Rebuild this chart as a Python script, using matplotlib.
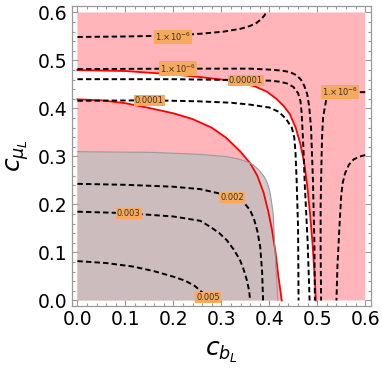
import numpy as np
import matplotlib
matplotlib.use("Agg")
import matplotlib.pyplot as plt

# red boundary curves
red_in_x = [0.0, 0.05, 0.10, 0.15, 0.20, 0.24, 0.28, 0.31, 0.34, 0.36, 0.375, 0.388, 0.398, 0.406, 0.413, 0.419, 0.426]
red_in_y = [0.419, 0.417, 0.411, 0.401, 0.390, 0.378, 0.360, 0.339, 0.310, 0.286, 0.260, 0.225, 0.185, 0.145, 0.10, 0.05, 0.0]
red_out_x = [0.0, 0.10, 0.20, 0.26, 0.31, 0.34, 0.37, 0.395, 0.415, 0.43, 0.443, 0.455, 0.465,
             0.473, 0.479, 0.485, 0.49, 0.494, 0.497]
red_out_y = [0.480, 0.478, 0.471, 0.465, 0.459, 0.454, 0.446, 0.435, 0.420, 0.405, 0.388, 0.360, 0.325,
             0.285, 0.24, 0.18, 0.12, 0.06, 0.0]

# gray excluded region edge
gray_x = [0.0, 0.10, 0.15, 0.256, 0.311, 0.335, 0.353, 0.366, 0.378, 0.388, 0.395, 0.40, 0.404,
          0.408, 0.410, 0.412, 0.415, 0.418]
gray_y = [0.310, 0.309, 0.3087, 0.3045, 0.2996, 0.295, 0.289, 0.283, 0.272, 0.26, 0.247, 0.232, 0.21,
          0.182, 0.14, 0.10, 0.05, 0.0]

# dashed contour lines
contours = {
    "top": ([0.0, 0.10, 0.20, 0.26, 0.304, 0.34, 0.36, 0.373, 0.383, 0.39, 0.393],
            [0.549, 0.550, 0.552, 0.556, 0.560, 0.566, 0.572, 0.578, 0.586, 0.594, 0.6]),
    "l2": ([0.0, 0.20, 0.36, 0.40, 0.425, 0.443, 0.457, 0.466, 0.473, 0.479, 0.483, 0.487, 0.491, 0.494, 0.495],
           [0.482, 0.483, 0.483, 0.481, 0.479, 0.476, 0.469, 0.460, 0.447, 0.430, 0.405, 0.36, 0.25, 0.12, 0.0]),
    "l3": ([0.0, 0.20, 0.35, 0.401, 0.42, 0.436, 0.45, 0.46, 0.465, 0.4675, 0.471, 0.474, 0.480, 0.484],
           [0.461, 0.461, 0.459, 0.458, 0.456, 0.4525, 0.445, 0.432, 0.415, 0.39, 0.32, 0.24, 0.12, 0.0]),
    "l4": ([0.0, 0.15, 0.25, 0.32, 0.36, 0.40, 0.42, 0.435, 0.447, 0.452, 0.4545, 0.457, 0.46, 0.461],
           [0.416, 0.417, 0.415, 0.412, 0.408, 0.402, 0.393, 0.378, 0.36, 0.34, 0.31, 0.25, 0.15, 0.0]),
    "r1": ([0.6, 0.56, 0.535, 0.525, 0.519, 0.516, 0.512, 0.51, 0.509, 0.507, 0.507, 0.508],
           [0.434, 0.434, 0.433, 0.429, 0.42, 0.404, 0.38, 0.34, 0.3, 0.2, 0.1, 0.0]),
    "r2": ([0.6, 0.589, 0.576, 0.566, 0.558, 0.553, 0.55, 0.546, 0.542, 0.540],
           [0.303, 0.300, 0.294, 0.283, 0.265, 0.245, 0.22, 0.15, 0.07, 0.0]),
    "g1": ([0.0, 0.10, 0.20, 0.256, 0.30, 0.33, 0.348, 0.36, 0.368, 0.375, 0.381, 0.385, 0.387],
           [0.243, 0.241, 0.237, 0.232, 0.222, 0.212, 0.203, 0.188, 0.17, 0.145, 0.112, 0.06, 0.0]),
    "g2": ([0.0, 0.10, 0.20, 0.256, 0.276, 0.295, 0.311, 0.326, 0.339, 0.347, 0.353, 0.358, 0.36],
           [0.185, 0.182, 0.175, 0.166, 0.154, 0.141, 0.126, 0.106, 0.084, 0.063, 0.043, 0.02, 0.0]),
    "g3": ([0.0, 0.06, 0.117, 0.16, 0.20, 0.225, 0.245, 0.26, 0.27],
           [0.082, 0.078, 0.0705, 0.061, 0.0496, 0.041, 0.03, 0.017, 0.0]),
}

lab_x = [0.20, 0.209, 0.351, 0.150, 0.547, 0.322, 0.107, 0.272]
lab_y = [0.549, 0.483, 0.459, 0.416, 0.434, 0.214, 0.182, 0.007]
lab_txt = ["1.×10$^{-6}$", "1.×10$^{-6}$", "0.00001", "0.0001", "1.×10$^{-6}$",
           "0.002", "0.003", "0.005"]

pink = "#FFB5BA"

fig = plt.figure(figsize=(3.82, 3.71), dpi=100)
ax = fig.add_axes([72 / 382, 1 - 306 / 371, 299 / 382, 300 / 371])

# pink allowed regions
ax.fill(np.r_[0.0, red_in_x], np.r_[0.0, red_in_y], color=pink, lw=0)
ax.fill(np.r_[red_out_x, 0.6, 0.6, 0.0], np.r_[red_out_y, 0.0, 0.6, 0.6], color=pink, lw=0)
ax.plot(red_in_x, red_in_y, color="red", lw=1.3)
ax.plot(red_out_x, red_out_y, color="red", lw=1.3)

# gray region on top
ax.fill(np.r_[0.0, gray_x], np.r_[0.0, gray_y], color="#BFBFBF", alpha=0.78, lw=0)
ax.plot(gray_x, gray_y, color="#9A9A9A", lw=0.8)

for name, (cx, cy) in contours.items():
    ax.plot(cx, cy, color="black", lw=1.4, linestyle=(0, (2.8, 1.6)))

for x, y, t in zip(lab_x, lab_y, lab_txt):
    ax.text(x, y, t, fontsize=6, color="#333333", ha="center", va="center",
            bbox=dict(boxstyle="square,pad=0.12", fc="#F7A95C", ec="none"))

ax.set_xlim(-0.0113, 0.612)
ax.set_ylim(-0.0115, 0.6135)
ax.set_xticks(np.arange(0, 0.61, 0.1))
ax.set_yticks(np.arange(0, 0.61, 0.1))
ax.set_xticks(np.arange(0, 0.61, 0.02), minor=True)
ax.set_yticks(np.arange(0, 0.61, 0.02), minor=True)
ax.set_xticklabels(["0.0", "0.1", "0.2", "0.3", "0.4", "0.5", "0.6"])
ax.set_yticklabels(["0.0", "0.1", "0.2", "0.3", "0.4", "0.5", "0.6"])
ax.tick_params(which="both", direction="in", top=True, right=True, color="#999999",
               labelsize=13.5, width=0.8)
ax.tick_params(which="major", length=4, pad=3)
ax.tick_params(which="minor", length=2)
for s in ax.spines.values():
    s.set_color("#999999")
    s.set_linewidth(0.9)

ax.set_xlabel(r"$c_{b_L}$", fontsize=18, labelpad=8)
ax.set_ylabel(r"$c_{\mu_L}$", fontsize=18, labelpad=5)

fig.savefig("out.png", dpi=100)
